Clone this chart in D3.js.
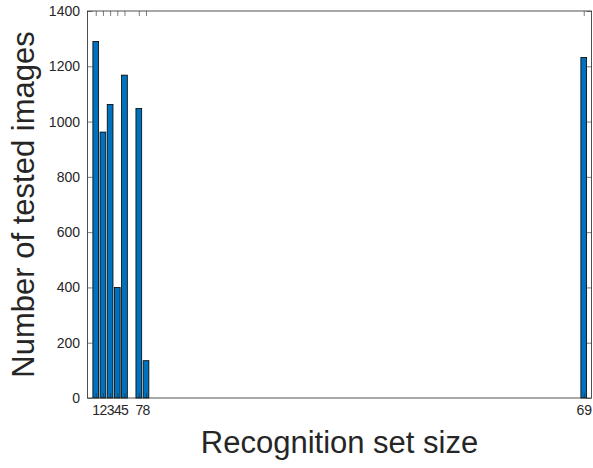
<!DOCTYPE html>
<html><head><meta charset="utf-8">
<script src="https://cdn.jsdelivr.net/npm/d3@7"></script>
<style>body{margin:0;background:#fff}svg{display:block}text{font-family:"Liberation Sans",Arial,sans-serif}</style>
</head><body>
<script>
const categories = [1, 2, 3, 4, 5, 7, 8, 69];
const values = [1290, 962, 1062, 400, 1168, 1047, 135, 1232];
const xTicks = [1, 2, 3, 4, 5, 7, 8, 69];
const yTicks = [0, 200, 400, 600, 800, 1000, 1200, 1400];

const W = 593, H = 468;
const L = 87.5, R = 591.5, T = 11, B = 398;
const svg = d3.select("body").append("svg").attr("width", W).attr("height", H);
const x = d3.scaleLinear().domain([-0.15, 70.08]).range([L, R]);
const y = d3.scaleLinear().domain([0, 1400]).range([B, T]);
const bw = x(0.8) - x(0);
const axc = "#262626";

svg.append("g").selectAll("rect").data(categories).join("rect")
  .attr("x", (d) => x(d) - bw / 2)
  .attr("y", (d, i) => y(values[i]))
  .attr("width", bw)
  .attr("height", (d, i) => y(0) - y(values[i]))
  .attr("fill", "#0072BD").attr("stroke", "#000").attr("stroke-width", 0.8);

const tl = 5;
const gx = svg.append("g").attr("transform", `translate(0,${B})`)
  .call(d3.axisBottom(x).tickValues(xTicks).tickSizeInner(-tl).tickSizeOuter(0).tickPadding(7).tickFormat(d3.format("d")));
const gxt = svg.append("g").attr("transform", `translate(0,${T})`)
  .call(d3.axisTop(x).tickValues(xTicks).tickSizeInner(-tl).tickSizeOuter(0).tickFormat(""));
const gy = svg.append("g").attr("transform", `translate(${L},0)`)
  .call(d3.axisLeft(y).tickValues(yTicks).tickSizeInner(-tl).tickSizeOuter(0).tickPadding(7.5).tickFormat(d3.format("d")));
const gyr = svg.append("g").attr("transform", `translate(${R},0)`)
  .call(d3.axisRight(y).tickValues(yTicks).tickSizeInner(-tl).tickSizeOuter(0).tickFormat(""));
[gx, gxt, gy, gyr].forEach(g => {
  g.select(".domain").remove();
  g.attr("font-family", null).attr("font-size", null);
  g.selectAll("line").attr("stroke", axc).attr("stroke-width", 0.6);
  g.selectAll("text").attr("fill", axc).style("font-size", "14px");
});
svg.append("rect").attr("x", L).attr("y", T).attr("width", R - L).attr("height", B - T)
  .attr("fill", "none").attr("stroke", axc).attr("stroke-width", 0.8);

svg.append("text").attr("x", (L + R) / 2).attr("y", 453).attr("text-anchor", "middle")
  .attr("fill", axc).style("font-size", "31px").text("Recognition set size");
svg.append("text").attr("transform", `translate(33.5,${(T + B) / 2}) rotate(-90)`).attr("text-anchor", "middle")
  .attr("fill", axc).style("font-size", "31px").text("Number of tested images");
</script>
</body></html>
